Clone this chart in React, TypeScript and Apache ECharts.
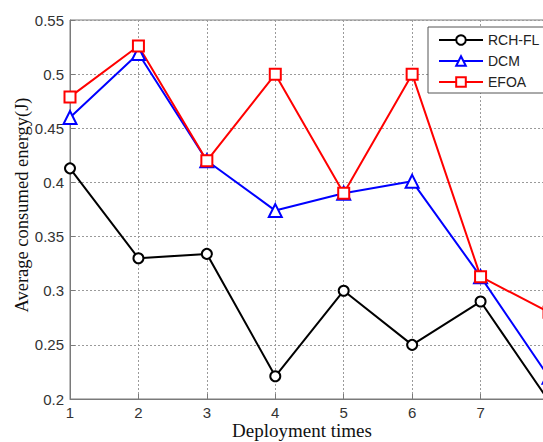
import React, { useEffect, useRef } from "react";
import * as echarts from "echarts";

const deployTimes = [1, 2, 3, 4, 5, 6, 7, 8];
const rchfl = [0.413, 0.33, 0.334, 0.221, 0.3, 0.25, 0.29, 0.198];
const dcm = [0.46, 0.519, 0.42, 0.374, 0.39, 0.401, 0.313, 0.22];
const efoa = [0.479, 0.526, 0.42, 0.5, 0.39, 0.5, 0.313, 0.28];
const seriesNames = ["RCH-FL", "DCM", "EFOA"];
const xTitle = "Deployment times";
const yTitle = "Average consumed energy(J)";

export default function App() {
  const ref = useRef<HTMLDivElement>(null);
  useEffect(() => {
    if (!ref.current) return;
    const chart = echarts.init(ref.current, null, { renderer: "svg" });
    const pair = (ys: number[]) => deployTimes.map((x, i) => [x, ys[i]]);
    const gridLine = { show: true, lineStyle: { color: "#9a9a9a", type: [2, 2] as any, width: 1 } };
    const titleFont = "Liberation Serif, Times New Roman, serif";
    chart.setOption({
      animation: false,
      backgroundColor: "#fff",
      grid: {
        left: 70,
        top: 20,
        width: 479,
        height: 379,
        outerBoundsMode: "none",
        containLabel: false,
        show: true,
        borderColor: "#7a7a7a",
        borderWidth: 1,
        backgroundColor: "transparent",
      },
      graphic: [
        {
          type: "text",
          x: 302,
          y: 440,
          style: {
            text: xTitle,
            font: `19px ${titleFont}`,
            fill: "#111",
            align: "center",
            verticalAlign: "bottom",
          },
        },
        {
          type: "text",
          x: 22,
          y: 205,
          rotation: Math.PI / 2,
          style: {
            text: yTitle,
            font: `18.5px ${titleFont}`,
            fill: "#111",
            align: "center",
            verticalAlign: "middle",
          },
        },
      ],
      legend: {
        orient: "vertical",
        left: 428,
        top: 27,
        data: seriesNames,
        itemWidth: 44,
        itemHeight: 12,
        itemGap: 7,
        padding: [6, 30, 4, 10],
        borderColor: "#555",
        borderWidth: 1,
        borderRadius: 0,
        backgroundColor: "#fff",
        textStyle: { fontFamily: "Liberation Sans, Arial", fontSize: 14, color: "#222" },
      },
      xAxis: {
        type: "value",
        min: 1,
        max: 8,
        interval: 1,
        axisLine: { show: true, lineStyle: { color: "#7a7a7a", width: 1 } },
        axisTick: { show: true, inside: true, length: 5, lineStyle: { color: "#7a7a7a" } },
        axisLabel: {
          fontFamily: "Liberation Sans, Arial",
          fontSize: 15,
          color: "#333",
          margin: 6,
          showMaxLabel: false,
        },
        splitLine: gridLine,
      },
      yAxis: {
        type: "value",
        min: 0.2,
        max: 0.55,
        interval: 0.05,
        axisLine: { show: true, lineStyle: { color: "#7a7a7a", width: 1 } },
        axisTick: { show: true, inside: true, length: 5, lineStyle: { color: "#7a7a7a" } },
        axisLabel: {
          fontFamily: "Liberation Sans, Arial",
          fontSize: 15,
          color: "#333",
          margin: 6,
          formatter: (v: number) => String(Math.round(v * 100) / 100),
        },
        splitLine: gridLine,
      },
      series: [
        {
          name: seriesNames[0],
          type: "line",
          data: pair(rchfl),
          symbol: "emptyCircle",
          symbolSize: 10,
          color: "#000000",
          lineStyle: { width: 2, color: "#000000" },
          itemStyle: { color: "#000000", borderWidth: 2 },
        },
        {
          name: seriesNames[1],
          type: "line",
          data: pair(dcm),
          symbol: "emptyTriangle",
          symbolSize: 13,
          color: "#0000ff",
          lineStyle: { width: 2, color: "#0000ff" },
          itemStyle: { color: "#0000ff", borderWidth: 2 },
        },
        {
          name: seriesNames[2],
          type: "line",
          data: pair(efoa),
          symbol: "emptyRect",
          symbolSize: 11,
          color: "#ff0000",
          lineStyle: { width: 2, color: "#ff0000" },
          itemStyle: { color: "#ff0000", borderWidth: 2 },
        },
      ],
    });
    return () => chart.dispose();
  }, []);
  return (
    <div
      ref={ref}
      style={{ position: "fixed", left: 0, top: 0, width: 543, height: 442, overflow: "hidden", background: "#fff" }}
    />
  );
}
